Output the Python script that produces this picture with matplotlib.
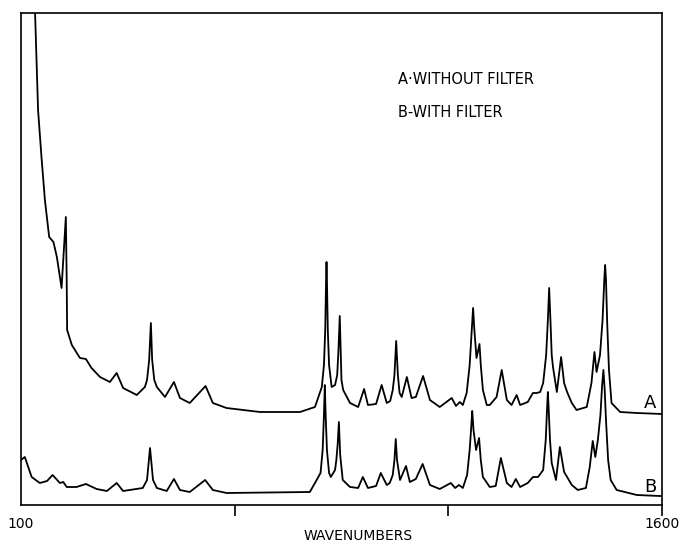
import matplotlib
matplotlib.use("Agg")
import matplotlib.pyplot as plt

# trace A: without filter (wavenumber, relative intensity)
wn_a = [128, 133, 140, 148, 156, 166, 176, 184, 195, 205, 207, 208, 219, 238, 252,
        265, 285, 308, 324, 339, 371, 390, 395, 400, 404, 407, 412, 418, 437, 458,
        472, 495, 532, 549, 581, 659, 737, 753, 788, 804, 809, 812, 814, 815, 816,
        818, 821, 827, 835, 840, 843, 846, 848, 850, 854, 870, 889, 903, 912, 931,
        944, 956, 964, 970, 974, 978, 982, 986, 991, 1003, 1014, 1024, 1041, 1057,
        1080, 1108, 1118, 1127, 1134, 1143, 1150, 1155, 1158, 1161, 1166, 1170,
        1173, 1176, 1181, 1190, 1197, 1213, 1225, 1237, 1248, 1260, 1268, 1286,
        1298, 1307, 1315, 1322, 1329, 1333, 1336, 1339, 1342, 1345, 1354, 1364,
        1371, 1378, 1389, 1400, 1424, 1435, 1442, 1447, 1455, 1461, 1465, 1467,
        1469, 1472, 1476, 1482, 1502, 1541, 1595, 1600]
int_a = [555, 492, 395, 348, 305, 268, 263, 248, 217, 288, 225, 175, 160, 147, 146,
         137, 128, 123, 132, 117, 110, 118, 125, 145, 182, 145, 125, 118, 108, 123,
         107, 102, 119, 102, 97, 93, 93, 93, 98, 118, 140, 175, 225, 243, 225,
         175, 140, 118, 120, 130, 155, 189, 155, 125, 115, 102, 98, 116, 100, 101,
         120, 102, 104, 115, 130, 164, 130, 112, 108, 128, 107, 108, 129, 105,
         98, 107, 99, 103, 100, 112, 140, 175, 197, 175, 147, 155,
         161, 140, 115, 100, 100, 108, 135, 105, 100, 110, 100, 103,
         112, 112, 113, 122, 150, 185, 217, 185, 150, 138, 113, 148,
         122, 113, 102, 95, 98, 122, 153, 133, 150, 185, 225, 240,
         225, 180, 135, 102, 93, 92, 91, 91]

# trace B: with filter
wn_b = [100, 109, 125, 144, 161, 174, 191, 199, 207, 230, 252, 277, 301, 324, 339,
        385, 395, 402, 409, 418, 441, 458, 472, 495, 531, 549, 581, 776, 788, 801,
        806, 809, 811, 813, 816, 821, 825, 835, 838, 841, 844, 847, 853, 870, 889,
        900, 912, 931, 942, 956, 963, 970, 974, 977, 980, 987, 1001, 1010, 1024,
        1040, 1057, 1080, 1106, 1116, 1125, 1134, 1144, 1150, 1154, 1156, 1159,
        1165, 1172, 1176, 1181, 1197, 1211, 1223, 1237, 1248, 1258, 1268, 1286,
        1298, 1310, 1322, 1328, 1331, 1333, 1335, 1338, 1342, 1352, 1361, 1371,
        1378, 1389, 1403, 1422, 1431, 1438, 1444, 1450, 1456, 1460, 1463, 1466,
        1469, 1474, 1480, 1494, 1541, 1595, 1600]
int_b = [45, 48, 28, 22, 24, 30, 22, 23, 18, 18, 21, 16, 14, 22, 14,
         17, 25, 57, 25, 17, 14, 26, 15, 13, 25, 15, 12, 13, 22, 32,
         55, 90, 120, 90, 55, 32, 28, 35, 45, 60, 83, 50, 25, 18, 17,
         28, 17, 19, 32, 20, 22, 30, 45, 66, 45, 25, 39, 23, 26,
         41, 20, 16, 22, 17, 20, 17, 30, 55, 80, 94, 75,
         55, 67, 45, 28, 18, 19, 47, 22, 18, 26, 18, 22,
         28, 28, 35, 65, 95, 113, 95, 65, 42, 25, 58, 33,
         28, 20, 15, 17, 38, 64, 48, 65, 90, 120, 135, 115,
         85, 45, 25, 15, 10, 9, 9]

x_ticks = [100, 600, 1100, 1600]
x_tick_labels = ["100", "", "", "1600"]

fig = plt.figure(figsize=(6.83, 5.46), dpi=100)
ax = fig.add_axes([0.0307, 0.0751, 0.9385, 0.9011])

ax.plot(wn_a, int_a, color="black", lw=1.3)
ax.plot(wn_b, int_b, color="black", lw=1.3)

ax.set_xlim(100, 1600)
ax.set_ylim(0, 492)
ax.set_yticks([])
ax.set_xticks(x_ticks)
ax.set_xticklabels(x_tick_labels, fontsize=10)
ax.tick_params(axis="x", direction="out", length=8, width=1.2, pad=1)
ax.xaxis.get_major_ticks()[0].tick1line.set_visible(False)
for s in ax.spines.values():
    s.set_linewidth(1.2)

# axis title sits a little right of centre, as in the original
fig.text(0.524, 0.018, "WAVENUMBERS", fontsize=10, ha="center", va="center")

# trace labels and key
ax.text(1572, 93, "A", fontsize=13, ha="center", va="bottom")
ax.text(1572, 9, "B", fontsize=13, ha="center", va="bottom")
ax.text(982, 425, "A·WITHOUT FILTER", fontsize=10.5, va="center")
ax.text(982, 392, "B-WITH FILTER", fontsize=10.5, va="center")

plt.savefig("out.png", dpi=100)
